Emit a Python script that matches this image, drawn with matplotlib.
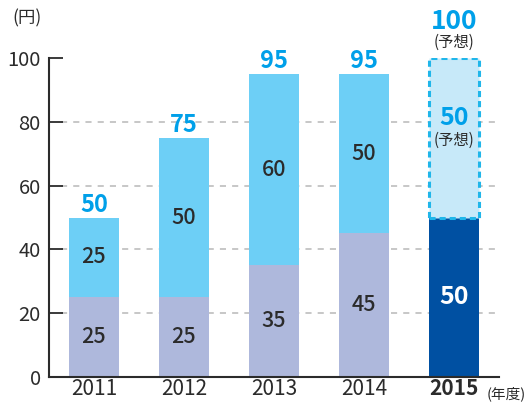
import matplotlib
matplotlib.use("Agg")
import matplotlib.pyplot as plt

plt.rcParams['font.family'] = ['Noto Sans CJK JP', 'DejaVu Sans']

years = ['2011', '2012', '2013', '2014', '2015']
lower = [25, 25, 35, 45, 50]
upper = [25, 50, 60, 50, 50]
totals = [50, 75, 95, 95, 100]
forecast_idx = 4
yticks = [0, 20, 40, 60, 80, 100]

c_low = '#aeb8dc'
c_up = '#6dcff6'
c_dark = '#0050a2'
c_fc = '#c7e9f9'
c_fc_edge = '#20b6ea'
c_label = '#00a0e9'
c_text = '#2b2b2b'

fig = plt.figure(figsize=(5.26, 4.04), dpi=100)
ax = fig.add_axes([49/526, 1-377/404, 450/526, (377-58)/404])
x = list(range(len(years)))
w = 0.56

for i in x:
    if i == forecast_idx:
        ax.bar(i, lower[i], w, color=c_dark, zorder=2)
        ax.bar(i, upper[i], w, bottom=lower[i], color=c_fc, edgecolor=c_fc_edge,
               linestyle=(0, (2, 1.3)), linewidth=2.2, zorder=2)
    else:
        ax.bar(i, lower[i], w, color=c_low, zorder=2)
        ax.bar(i, upper[i], w, bottom=lower[i], color=c_up, zorder=2)

# labels
for i in x:
    if i == forecast_idx:
        ax.text(i, lower[i]/2, str(lower[i]), ha='center', va='center', color='white',
                fontsize=18, fontweight='bold', zorder=3)
        ax.text(i, lower[i] + upper[i]/2 + 2.5, str(upper[i]), ha='center', va='bottom',
                color=c_label, fontsize=18, fontweight='bold', zorder=3)
        ax.text(i, lower[i] + upper[i]/2 + 2, '(予想)', ha='center', va='top',
                color=c_text, fontsize=11, zorder=3)
        ax.text(i, totals[i] + 7.2, str(totals[i]), ha='center', va='bottom',
                color=c_label, fontsize=19, fontweight='bold', zorder=3, clip_on=False)
        ax.text(i, totals[i] + 7.5, '(予想)', ha='center', va='top',
                color=c_text, fontsize=11, zorder=3, clip_on=False)
    else:
        ax.text(i, lower[i]/2, str(lower[i]), ha='center', va='center', color=c_text,
                fontsize=15.5, fontweight='medium', zorder=3)
        ax.text(i, lower[i] + upper[i]/2, str(upper[i]), ha='center', va='center',
                color=c_text, fontsize=15.5, fontweight='medium', zorder=3)
        ax.text(i, totals[i] + 0.3, str(totals[i]), ha='center', va='bottom',
                color=c_label, fontsize=17, fontweight='bold', zorder=3, clip_on=False)

ax.set_xlim(-0.5, 4.5)
ax.set_ylim(0, 100)
ax.set_yticks(yticks)
ax.set_yticklabels([str(v) for v in yticks], fontsize=14.5, color=c_text)
ax.set_xticks(x)
ax.set_xticklabels(years, fontsize=15, color=c_text)
ax.get_xticklabels()[forecast_idx].set_fontweight('bold')
ax.tick_params(axis='y', direction='in', length=10, width=1.3, color=c_text, pad=6)
ax.tick_params(axis='x', length=0, pad=1)

for v in yticks[1:-1]:
    ax.axhline(v, xmin=12/450, xmax=1.0, color='#b8b8b8', linestyle=(0, (4, 4)),
               linewidth=1.1, zorder=1)

for s in ['top', 'right']:
    ax.spines[s].set_visible(False)
ax.spines['left'].set_color(c_text)
ax.spines['left'].set_linewidth(1.5)
ax.spines['bottom'].set_color(c_text)
ax.spines['bottom'].set_linewidth(1.5)

fig.text(12/526, 1-18/404, '(円)', fontsize=12.5, color=c_text, ha='left', va='center')
fig.text(526/526, 1-394/404, '(年度)', fontsize=10.5, color=c_text, ha='right', va='center')

fig.savefig('out.png', dpi=100)
